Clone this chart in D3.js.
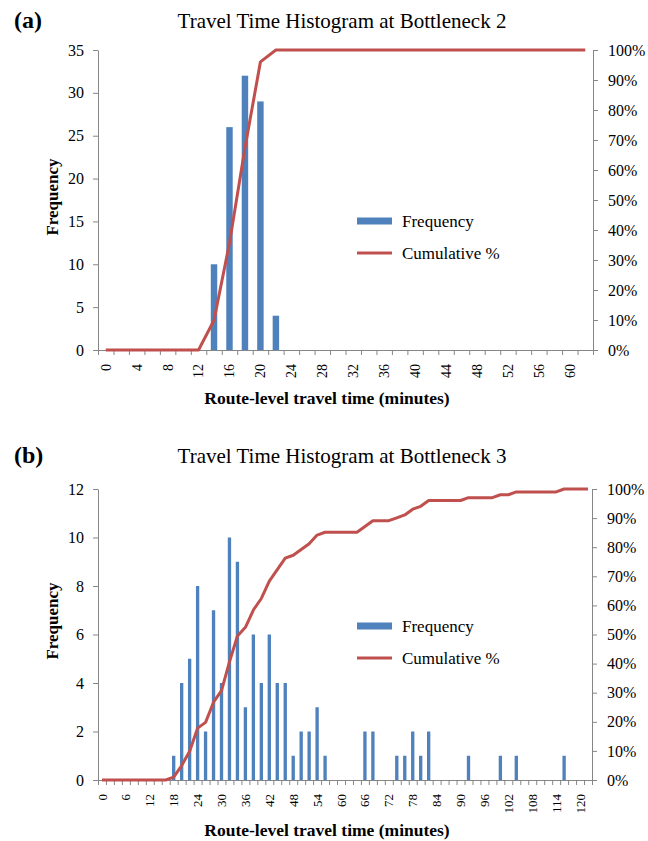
<!DOCTYPE html>
<html>
<head>
<meta charset="utf-8">
<script src="https://cdn.jsdelivr.net/npm/d3@7"></script>
<style>
  body { margin: 0; background: #fff; }
  text { font-family: "Liberation Serif", "Times New Roman", serif; }
</style>
</head>
<body>
<div id="chart"></div>
<script>
// bins (minutes), one per category on the x axis
const binsA = d3.range(0, 64, 2);
const binsB = d3.range(0, 124, 2);

// frequency per bin
const freqA = [0, 0, 0, 0, 0, 0, 0, 10, 26, 32, 29, 4,
  0, 0, 0, 0, 0, 0, 0, 0, 0, 0, 0, 0, 0, 0, 0, 0, 0, 0, 0, 0];
const freqB = [0, 0, 0, 0, 0, 0, 0, 0, 0,
  1, 4, 5, 8, 2, 7, 4, 10, 9, 3, 6, 4, 6, 4, 4, 1, 2, 2, 3, 1,
  0, 0, 0, 0, 2, 2, 0, 0, 1, 1, 2, 1, 2, 0, 0, 0, 0, 1, 0, 0, 0,
  1, 0, 1, 0, 0, 0, 0, 0, 1, 0, 0, 0];

// axis ticks
const freqTicksA = [0, 5, 10, 15, 20, 25, 30, 35];
const freqTicksB = [0, 2, 4, 6, 8, 10, 12];
const pctTicks = [0, 0.1, 0.2, 0.3, 0.4, 0.5, 0.6, 0.7, 0.8, 0.9, 1];

const blue = "#4f81bd";
const red = "#c0504d";
const axisGrey = "#868686";
const serif = "'Liberation Serif', 'Times New Roman', serif";

const width = 648;
const height = 841;
const svg = d3.select("#chart")
  .append("svg")
  .attr("width", width)
  .attr("height", height);

function drawChart(c) {
  const g = svg.append("g");
  const n = c.bins.length;

  const x = d3.scaleBand().domain(c.bins).range([c.left, c.right]);
  const xIdx = d3.scaleLinear().domain([0, n]).range([c.left, c.right]);
  const y = d3.scaleLinear().domain([0, c.yMax]).range([c.bottom, c.top]);
  const yPct = d3.scaleLinear().domain([0, 1]).range([c.bottom, c.top]);

  const total = d3.sum(c.freq);
  const cum = Array.from(d3.cumsum(c.freq), v => v / total);
  const bw = x.bandwidth();
  const barW = bw / 2.4;

  // bars
  g.selectAll("rect.bar")
    .data(c.freq)
    .enter()
    .append("rect")
      .attr("class", "bar")
      .attr("x", (d, i) => x(c.bins[i]) + (bw - barW) / 2)
      .attr("y", d => y(d))
      .attr("width", barW)
      .attr("height", d => c.bottom - y(d))
      .attr("fill", blue);

  // left axis
  const left = g.append("g")
    .attr("transform", "translate(" + c.left + ",0)")
    .call(d3.axisLeft(y).tickValues(c.yTicks).tickSize(5).tickSizeOuter(0).tickPadding(9));

  // right axis
  const right = g.append("g")
    .attr("transform", "translate(" + c.right + ",0)")
    .call(d3.axisRight(yPct).tickValues(pctTicks).tickFormat(d3.format(".0%"))
      .tickSize(5).tickSizeOuter(0).tickPadding(10));

  [left, right].forEach(a => {
    a.attr("font-family", null);
    a.selectAll("text").style("font-size", "16px").style("font-family", serif)
      .attr("fill", "#000");
  });

  // x axis: tick marks between categories
  const bottomTicks = g.append("g")
    .attr("transform", "translate(0," + c.bottom + ")")
    .call(d3.axisBottom(xIdx).tickValues(d3.range(0, n + 1)).tickSize(5)
      .tickSizeOuter(0).tickFormat(""));

  // x axis labels, rotated
  const labels = g.append("g")
    .attr("transform", "translate(0," + c.bottom + ")")
    .call(d3.axisBottom(x).tickValues(c.bins.filter((d, i) => i % c.every === 0)).tickSize(0));
  labels.select(".domain").remove();
  labels.attr("font-family", null);
  labels.selectAll("text")
    .attr("y", 0)
    .attr("x", -c.labelGap)
    .attr("dy", "0.35em")
    .attr("transform", "rotate(-90)")
    .attr("text-anchor", "end")
    .style("font-size", c.xFont + "px")
    .style("font-family", serif)
    .attr("fill", "#000");

  [left, right, bottomTicks].forEach(a => {
    a.selectAll(".domain, line").attr("stroke", axisGrey);
  });

  // cumulative % line
  const line = d3.line()
    .x((d, i) => x(c.bins[i]) + bw / 2)
    .y(d => yPct(d));
  g.append("path")
    .datum(cum)
    .attr("d", line)
    .attr("fill", "none")
    .attr("stroke", red)
    .attr("stroke-width", 3)
    .attr("stroke-linejoin", "round");

  // titles
  g.append("text")
    .attr("x", 14).attr("y", c.titleY)
    .attr("font-size", 24).attr("font-weight", "bold")
    .text(c.panel);
  g.append("text")
    .attr("x", 342).attr("y", c.titleY)
    .attr("text-anchor", "middle")
    .attr("font-size", 21)
    .text(c.title);
  g.append("text")
    .attr("transform", "translate(58," + c.yTitleY + ") rotate(-90)")
    .attr("text-anchor", "middle")
    .attr("font-size", 17).attr("font-weight", "bold")
    .text("Frequency");
  g.append("text")
    .attr("x", 327).attr("y", c.xTitleY)
    .attr("text-anchor", "middle")
    .attr("font-size", 17.5).attr("font-weight", "bold")
    .text("Route-level travel time (minutes)");

  // legend
  g.append("rect")
    .attr("x", 357).attr("y", c.legendY - 3.5)
    .attr("width", 35).attr("height", 7)
    .attr("fill", blue);
  g.append("text")
    .attr("x", 402).attr("y", c.legendY + 6)
    .attr("font-size", 17)
    .text("Frequency");
  g.append("line")
    .attr("x1", 357).attr("x2", 392)
    .attr("y1", c.legendY + 32).attr("y2", c.legendY + 32)
    .attr("stroke", red).attr("stroke-width", 3);
  g.append("text")
    .attr("x", 402).attr("y", c.legendY + 38)
    .attr("font-size", 17)
    .text("Cumulative %");
}

drawChart({
  bins: binsA, freq: freqA, yMax: 35, yTicks: freqTicksA, every: 2,
  left: 98, right: 593, top: 50, bottom: 350,
  panel: "(a)", title: "Travel Time Histogram at Bottleneck 2", titleY: 28,
  yTitleY: 197, xTitleY: 404, legendY: 221, labelGap: 14, xFont: 14
});

drawChart({
  bins: binsB, freq: freqB, yMax: 12, yTicks: freqTicksB, every: 3,
  left: 98, right: 592, top: 489, bottom: 780,
  panel: "(b)", title: "Travel Time Histogram at Bottleneck 3", titleY: 463,
  yTitleY: 621, xTitleY: 836, legendY: 626, labelGap: 14, xFont: 13
});
</script>
</body>
</html>
